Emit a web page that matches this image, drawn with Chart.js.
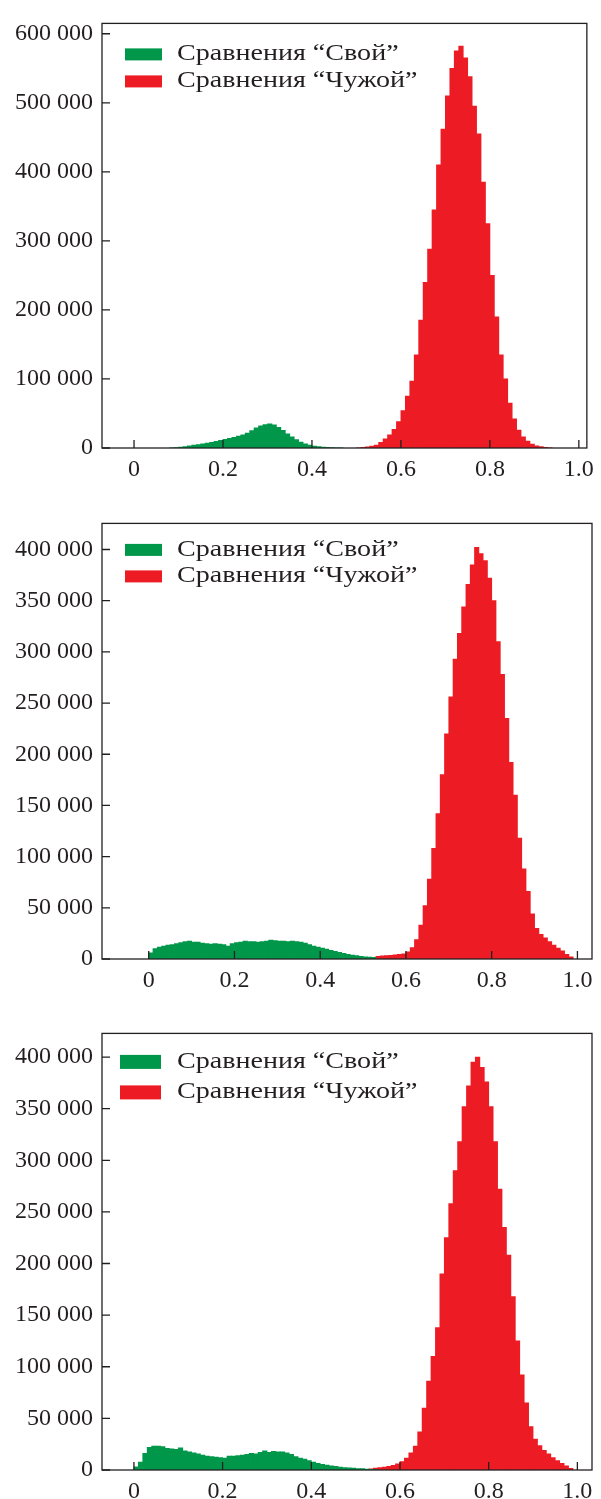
<!DOCTYPE html>
<html>
<head>
<meta charset="utf-8">
<script src="https://cdn.jsdelivr.net/npm/chart.js@4.4.1/dist/chart.umd.min.js"></script>
<style>
  html, body { margin: 0; padding: 0; background: #fff; }
  body { width: 601px; height: 1499px; position: relative; overflow: hidden; }
  .panel { position: absolute; left: 0; width: 601px; }
</style>
</head>
<body>
<div class="panel" style="top:0px;height:490px"><canvas id="chart1" width="601" height="490"></canvas></div>
<div class="panel" style="top:500px;height:500px"><canvas id="chart2" width="601" height="500"></canvas></div>
<div class="panel" style="top:1010px;height:489px"><canvas id="chart3" width="601" height="489"></canvas></div>
<script>
// histogram bins are 0.01 wide, each series lists its counts from its first bin centre
const binWidth = 0.01;
const seriesLabels = ['Сравнения “Свой”', 'Сравнения “Чужой”'];
const xTickValues = [0, 0.2, 0.4, 0.6, 0.8, 1.0];
const xTickLabels = ['0', '0.2', '0.4', '0.6', '0.8', '1.0'];
const yTickValuesTop = [0, 100000, 200000, 300000, 400000, 500000, 600000];
const yTickLabelsTop = ['0', '100 000', '200 000', '300 000', '400 000', '500 000', '600 000'];
const yTickValuesLow = [0, 50000, 100000, 150000, 200000, 250000, 300000, 350000, 400000];
const yTickLabelsLow = ['0', '50 000', '100 000', '150 000', '200 000', '250 000', '300 000', '350 000', '400 000'];

// panel 1
const green1Start = 0.085;
const green1 = [300, 600, 1200, 2000, 3000, 4000, 5000, 6000, 7000, 8200, 9500, 11000, 12500, 14000, 15500,
    17000, 19000, 21500, 25000, 29000, 32000, 34000, 35000, 33500, 30000, 25500, 20500, 16000, 12000, 8500,
    6000, 4000, 2700, 1800, 1200, 800, 500, 300, 100];
const red1Start = 0.505;
const red1 = [300, 800, 1500, 2500, 4000, 8000, 13000, 19000, 27000, 38000, 54000, 75000, 97000, 135000,
    185000, 240000, 288000, 345000, 410000, 462000, 510000, 550000, 575000, 582000, 565000, 538000, 495000,
    455000, 385000, 325000, 250000, 190000, 135000, 100000, 65000, 42000, 26000, 16000, 10000, 5500, 3000,
    1800, 800, 200];

// panel 2
const green2Start = 0.005;
const green2 = [6000, 10000, 11500, 12500, 13500, 14000, 15000, 16000, 17000, 17500, 16500, 16500, 15500,
    15000, 14500, 15000, 14500, 14000, 12500, 15000, 16000, 16500, 17500, 17000, 17000, 16500, 17000, 17500,
    18500, 18000, 17500, 17500, 17000, 17500, 17000, 16500, 15500, 14000, 12500, 11500, 10500, 9500, 8500,
    7500, 6500, 5500, 4500, 3800, 3200, 2600, 2000, 1800, 1500];
const red2Start = 0.535;
const red2 = [2500, 3000, 3200, 3500, 4000, 4500, 5000, 7000, 11000, 19000, 33000, 52000, 78000, 108000,
    142000, 180000, 220000, 256000, 293000, 318000, 344000, 366000, 385000, 402000, 396000, 389000, 372000,
    350000, 310000, 278000, 235000, 192000, 160000, 118000, 88000, 66000, 44000, 30000, 24000, 20500, 17000,
    13500, 10500, 7800, 4500, 2000];

// panel 3
const green3Start = 0.005;
const green3 = [3000, 7500, 16000, 22000, 23000, 23000, 22500, 21000, 20500, 20000, 21500, 18500, 17500,
    16500, 15500, 14500, 13500, 13000, 12500, 12000, 11500, 13500, 13500, 14000, 14500, 15000, 16000, 15500,
    17000, 18500, 17000, 18000, 17500, 17500, 16500, 15000, 13000, 11500, 10500, 9000, 7500, 6500, 5500,
    4800, 4000, 3500, 2800, 2300, 2000, 1700, 1400, 1200, 900, 600, 300];
const red3Start = 0.535;
const red3 = [1000, 1800, 2300, 2800, 3500, 4500, 6000, 8000, 11500, 16500, 23000, 37000, 60000, 86000,
    110000, 138000, 190000, 225000, 258000, 290000, 318000, 352000, 372000, 395000, 400000, 390000, 376000,
    352000, 318000, 272000, 235000, 208000, 168000, 125000, 92000, 65000, 42000, 30000, 23500, 19000, 15500,
    12000, 9000, 6500, 4000, 1500];

const greenColor = '#00974a';
const redColor = '#ed1c24';
const inkColor = '#231f20';
const fontFamily = '"Liberation Serif", "Times New Roman", serif';

function toBins(start, counts) {
    return counts.map((c, i) => ({ x: +(start + i * binWidth).toFixed(3), y: c }));
}

function histDataset(label, start, counts, color) {
    return {
        label: label,
        data: toBins(start, counts),
        backgroundColor: color,
        borderWidth: 0,
        barPercentage: 1.0,
        categoryPercentage: 1.0,
        grouped: false,
        inflateAmount: 0.4
    };
}

// frame, inward tick marks and the legend sitting inside the plot box
const framePlugin = {
    id: 'frame',
    afterDraw(chart, args, opts) {
        const ctx = chart.ctx;
        const a = chart.chartArea;
        const xs = chart.scales.x;
        const ys = chart.scales.y;
        ctx.save();
        ctx.strokeStyle = inkColor;
        ctx.lineWidth = 1.3;
        ctx.strokeRect(a.left, a.top, a.right - a.left, a.bottom - a.top);
        ctx.beginPath();
        xs.ticks.forEach(t => {
            const px = xs.getPixelForValue(t.value);
            ctx.moveTo(px, a.bottom);
            ctx.lineTo(px, a.bottom - 8);
        });
        ys.ticks.forEach(t => {
            const py = ys.getPixelForValue(t.value);
            ctx.moveTo(a.left, py);
            ctx.lineTo(a.left + 8, py);
        });
        ctx.stroke();

        chart.data.datasets.forEach((ds, i) => {
            const cy = a.top + opts.rows[i];
            ctx.fillStyle = ds.backgroundColor;
            ctx.fillRect(opts.x, cy - opts.h / 2, opts.w, opts.h);
            // the printed legend type is set wide, so stretch it a little
            ctx.save();
            ctx.translate(opts.textX, cy);
            ctx.scale(1.22, 1);
            ctx.font = '23px ' + fontFamily;
            ctx.textBaseline = 'middle';
            ctx.fillStyle = inkColor;
            ctx.fillText(ds.label, 0, 0);
            ctx.restore();
        });
        ctx.restore();
    }
};

function makeChart(id, datasets, xRange, yMax, yTicks, yLabels, pad, legend) {
    const ctx = document.getElementById(id).getContext('2d');
    return new Chart(ctx, {
        type: 'bar',
        data: { datasets: datasets },
        plugins: [framePlugin],
        options: {
            responsive: false,
            animation: false,
            layout: { padding: { left: 0, right: 9, top: pad.top, bottom: pad.bottom } },
            plugins: {
                legend: { display: false },
                tooltip: { enabled: false },
                frame: legend
            },
            scales: {
                x: {
                    type: 'linear',
                    bounds: 'data',
                    min: xRange[0],
                    max: xRange[1],
                    offset: false,
                    grid: { display: false, drawTicks: false },
                    border: { display: false },
                    afterBuildTicks: s => { s.ticks = xTickValues.map(v => ({ value: v })); },
                    ticks: {
                        autoSkip: false,
                        maxRotation: 0,
                        padding: 7,
                        color: inkColor,
                        font: { family: fontFamily, size: 24 },
                        callback: (v, i) => xTickLabels[i]
                    },
                    afterFit: s => { s.height = pad.xHeight; }
                },
                y: {
                    type: 'linear',
                    bounds: 'data',
                    min: 0,
                    max: yMax,
                    grid: { display: false, drawTicks: false },
                    border: { display: false },
                    afterBuildTicks: s => { s.ticks = yTicks.map(v => ({ value: v })); },
                    ticks: {
                        autoSkip: false,
                        padding: 9,
                        color: inkColor,
                        font: { family: fontFamily, size: 24 },
                        callback: (v, i) => yLabels[i]
                    },
                    afterFit: s => { s.width = 102; }
                }
            }
        }
    });
}

makeChart('chart1',
    [histDataset(seriesLabels[0], green1Start, green1, greenColor),
     histDataset(seriesLabels[1], red1Start, red1, redColor)],
    [-0.072, 1.018], 615000, yTickValuesTop, yTickLabelsTop,
    { top: 9, bottom: 12, xHeight: 30 },
    { x: 125, w: 37, h: 12, textX: 177, rows: [31, 58] });

makeChart('chart2',
    [histDataset(seriesLabels[0], green2Start, green2, greenColor),
     histDataset(seriesLabels[1], red2Start, red2, redColor)],
    [-0.109, 1.034], 425500, yTickValuesLow, yTickLabelsLow,
    { top: 21, bottom: 11, xHeight: 30 },
    { x: 125, w: 37, h: 12, textX: 177, rows: [26.5, 53] });

makeChart('chart3',
    [histDataset(seriesLabels[0], green3Start, green3, greenColor),
     histDataset(seriesLabels[1], red3Start, red3, redColor)],
    [-0.072, 1.033], 422900, yTickValuesLow, yTickLabelsLow,
    { top: 22, bottom: 0, xHeight: 29 },
    { x: 120, w: 41, h: 14, textX: 177, rows: [28.5, 59] });
</script>
</body>
</html>
